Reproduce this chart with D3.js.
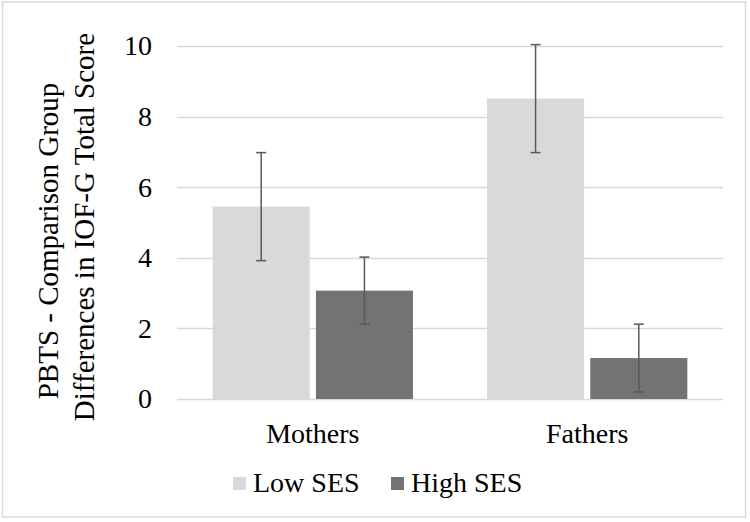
<!DOCTYPE html>
<html>
<head>
<meta charset="utf-8">
<script src="https://cdn.jsdelivr.net/npm/d3@7"></script>
<style>
  html, body { margin: 0; padding: 0; background: #fff; }
  svg { display: block; }
  text { font-family: "Liberation Serif", "Times New Roman", serif; fill: #000; }
</style>
</head>
<body>
<svg id="chart" width="750" height="522"></svg>
<script>
const categories = ["Mothers", "Fathers"];
const seriesNames = ["Low SES", "High SES"];
const lowSES = [5.45, 8.51];
const highSES = [3.07, 1.16];
const lowSESErr = [1.53, 1.53];
const highSESErr = [0.95, 0.96];
const yTicks = [0, 2, 4, 6, 8, 10];
const titleLines = ["PBTS - Comparison Group", "Differences in IOF-G Total Score"];

const colors = { "Low SES": "#d9d9d9", "High SES": "#737373" };
const values = { "Low SES": lowSES, "High SES": highSES };
const errs = { "Low SES": lowSESErr, "High SES": highSESErr };

const svg = d3.select("#chart");
const FONT = '"Liberation Serif", "Times New Roman", serif';

// border
svg.append("rect").attr("x", 2.5).attr("y", 2).attr("width", 743).attr("height", 515)
  .attr("fill", "none").attr("stroke", "#d9d9d9").attr("stroke-width", 1.5);

const plot = { left: 177, right: 723, top: 46, bottom: 399 };

const y = d3.scaleLinear().domain([0, 10]).range([plot.bottom, plot.top]);
const x0 = d3.scaleBand().domain(categories).range([plot.left, plot.right])
  .paddingInner(0.27).paddingOuter(0.13);
const x1 = d3.scaleBand().domain(seriesNames).range([0, x0.bandwidth()]).paddingInner(0.06);

// gridlines
svg.append("g").selectAll("line").data(yTicks).join("line")
  .attr("x1", plot.left).attr("x2", plot.right)
  .attr("y1", d => Math.round(y(d)) + 0.5).attr("y2", d => Math.round(y(d)) + 0.5)
  .attr("stroke", "#d9d9d9").attr("stroke-width", 1.5);

// y axis labels
const yAxis = d3.axisLeft(y).tickValues(yTicks).tickSize(0).tickPadding(0).tickFormat(d3.format("d"));
const gy = svg.append("g").attr("transform", `translate(152,0)`).call(yAxis);
gy.select(".domain").remove();
gy.selectAll("text").attr("font-size", 28).attr("fill", "#000").style("font-family", FONT);

// bars
const groups = svg.append("g").selectAll("g").data(categories).join("g")
  .attr("transform", d => `translate(${x0(d)},0)`);

const rows = (c, i) => seriesNames.map(s => ({ s, v: values[s][i], e: errs[s][i] }));

groups.selectAll("rect").data(rows).join("rect")
  .attr("x", d => x1(d.s)).attr("width", x1.bandwidth())
  .attr("y", d => y(d.v)).attr("height", d => y(0) - y(d.v))
  .attr("fill", d => colors[d.s]);

// error bars
const eb = groups.selectAll("g.err").data(rows).join("g").attr("class", "err")
  .attr("transform", d => `translate(${x1(d.s) + x1.bandwidth() / 2},0)`);
eb.append("line").attr("x1", 0).attr("x2", 0)
  .attr("y1", d => y(d.v + d.e)).attr("y2", d => y(d.v - d.e))
  .attr("stroke", "#595959").attr("stroke-width", 1.5);
eb.append("line").attr("x1", -5).attr("x2", 5)
  .attr("y1", d => y(d.v + d.e)).attr("y2", d => y(d.v + d.e))
  .attr("stroke", "#595959").attr("stroke-width", 1.5);
eb.append("line").attr("x1", -5).attr("x2", 5)
  .attr("y1", d => y(d.v - d.e)).attr("y2", d => y(d.v - d.e))
  .attr("stroke", "#595959").attr("stroke-width", 1.5);

// category labels
const xAxis = d3.axisBottom(x0).tickSize(0).tickPadding(0);
const gx = svg.append("g").attr("transform", `translate(0,${plot.bottom})`).call(xAxis);
gx.select(".domain").remove();
gx.selectAll("text").attr("font-size", 28).attr("fill", "#000").attr("dy", null).attr("y", 44)
  .style("font-family", FONT);

// y title
const titleCenters = [241, 227];
const title = svg.append("g");
title.selectAll("text").data(titleLines).join("text")
  .attr("transform", (d, i) => `translate(${58 + i * 36},${titleCenters[i]}) rotate(-90)`)
  .attr("text-anchor", "middle").attr("font-size", 29)
  .text(d => d);

// legend
const legend = svg.append("g");
const legendPos = [233, 391];
seriesNames.forEach((s, i) => {
  legend.append("rect").attr("x", legendPos[i]).attr("y", 477).attr("width", 13).attr("height", 13)
    .attr("fill", colors[s]);
  legend.append("text").attr("x", legendPos[i] + 20).attr("y", 492).attr("font-size", 28).text(s);
});
</script>
</body>
</html>
